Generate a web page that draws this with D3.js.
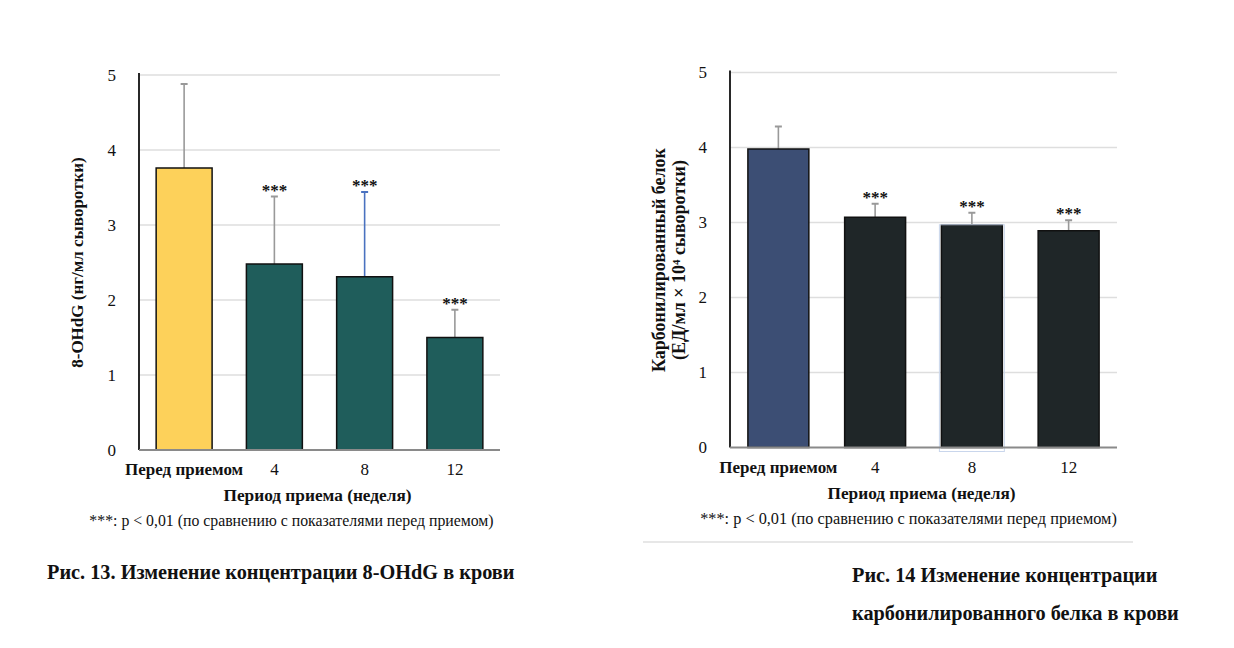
<!DOCTYPE html>
<html>
<head>
<meta charset="utf-8">
<script src="https://cdn.jsdelivr.net/npm/d3@7"></script>
<style>
  body { margin: 0; background: #fff; }
  svg text { font-family: "Liberation Serif", "Times New Roman", serif; fill: #111; }
</style>
</head>
<body>
<div id="chart"></div>
<script>
// data
var categories = ["Перед приемом", "4", "8", "12"];
var yTicks = [0, 1, 2, 3, 4, 5];
var ohdgMeans = [3.76, 2.48, 2.31, 1.50];
var ohdgErrors = [1.12, 0.90, 1.13, 0.37];
var ohdgMarks = ["", "***", "***", "***"];
var carbMeans = [3.98, 3.07, 2.97, 2.89];
var carbErrors = [0.30, 0.18, 0.16, 0.14];
var carbMarks = ["", "***", "***", "***"];

var svgWidth = 1234;
var svgHeight = 648;

var svg = d3.select("#chart")
  .append("svg")
  .attr("width", svgWidth)
  .attr("height", svgHeight);

svg.append("rect").attr("width", svgWidth).attr("height", svgHeight).attr("fill", "#fff");

function drawPanel(opt) {
  var x = d3.scaleBand()
    .domain(categories)
    .range([opt.left, opt.right])
    .paddingInner(opt.pad)
    .paddingOuter(opt.pad / 2);

  var y = d3.scaleLinear()
    .domain([0, 5])
    .range([opt.bottom, opt.top]);

  var g = svg.append("g");

  // gridlines
  g.selectAll(".grid")
    .data(yTicks.slice(1))
    .enter()
    .append("line")
    .attr("x1", opt.left)
    .attr("x2", opt.right)
    .attr("y1", d => y(d))
    .attr("y2", d => y(d))
    .attr("stroke", "#dedede")
    .attr("stroke-width", 1.5);

  // y axis labels
  var yAxis = d3.axisLeft(y).tickValues(yTicks).tickFormat(d3.format("d"))
    .tickSize(0).tickPadding(opt.tickPad);
  var ya = g.append("g")
    .attr("transform", `translate(${opt.left}, 0)`)
    .call(yAxis);
  ya.select(".domain").remove();
  ya.selectAll("text")
    .attr("font-family", "Liberation Serif")
    .attr("font-size", "17px")
    .attr("fill", "#222");

  var data = categories.map((c, i) => ({
    cat: c, mean: opt.means[i], err: opt.errors[i], mark: opt.marks[i], i: i
  }));

  // error bars
  var eb = g.selectAll(".err")
    .data(data)
    .enter()
    .append("g");
  eb.append("line")
    .attr("x1", d => x(d.cat) + x.bandwidth() / 2)
    .attr("x2", d => x(d.cat) + x.bandwidth() / 2)
    .attr("y1", d => y(d.mean))
    .attr("y2", d => y(d.mean + d.err))
    .attr("stroke", d => opt.errColors[d.i])
    .attr("stroke-width", 1.6);
  eb.append("line")
    .attr("x1", d => x(d.cat) + x.bandwidth() / 2 - 3.5)
    .attr("x2", d => x(d.cat) + x.bandwidth() / 2 + 3.5)
    .attr("y1", d => y(d.mean + d.err))
    .attr("y2", d => y(d.mean + d.err))
    .attr("stroke", d => opt.errColors[d.i])
    .attr("stroke-width", 2);

  // bars
  g.selectAll(".bar")
    .data(data)
    .enter()
    .append("rect")
    .attr("x", d => x(d.cat))
    .attr("width", x.bandwidth())
    .attr("y", d => y(d.mean))
    .attr("height", d => y(0) - y(d.mean))
    .attr("fill", d => opt.colors[d.i])
    .attr("stroke", "#111")
    .attr("stroke-width", 1.5);

  if (opt.selected != null) {
    var s = data[opt.selected];
    g.append("rect")
      .attr("x", x(s.cat) - 2)
      .attr("width", x.bandwidth() + 4)
      .attr("y", y(s.mean))
      .attr("height", y(0) - y(s.mean) + 4)
      .attr("fill", "none")
      .attr("stroke", "#c9d6ec")
      .attr("stroke-width", 1);
  }

  // significance marks
  g.selectAll(".mark")
    .data(data)
    .enter()
    .append("text")
    .attr("x", d => x(d.cat) + x.bandwidth() / 2)
    .attr("y", d => y(d.mean + d.err) - 1)
    .attr("text-anchor", "middle")
    .attr("font-size", "17px")
    .attr("font-weight", "bold")
    .text(d => d.mark);

  // axes lines
  g.append("line")
    .attr("x1", opt.left).attr("x2", opt.left)
    .attr("y1", y(5) - 2).attr("y2", y(0))
    .attr("stroke", "#111").attr("stroke-width", 1.8);
  g.append("line")
    .attr("x1", opt.left).attr("x2", opt.right)
    .attr("y1", y(0)).attr("y2", y(0))
    .attr("stroke", "#8a8a8a").attr("stroke-width", 2);

  // x axis labels
  var xAxis = d3.axisBottom(x).tickSize(0).tickPadding(13);
  var xa = g.append("g")
    .attr("transform", `translate(0, ${y(0)})`)
    .call(xAxis);
  xa.select(".domain").remove();
  xa.selectAll("text")
    .attr("font-family", "Liberation Serif")
    .attr("font-size", "17px")
    .attr("fill", "#111")
    .attr("font-weight", (d, i) => i === 0 ? "bold" : "normal");

  // x title and note
  var cx = (opt.left + opt.right) / 2;
  g.append("text")
    .attr("x", cx - 2)
    .attr("y", y(0) + 51)
    .attr("text-anchor", "middle")
    .attr("font-size", "17.3px")
    .attr("font-weight", "bold")
    .text("Период приема (неделя)");
  g.append("text")
    .attr("x", cx + opt.noteShift)
    .attr("y", y(0) + 76)
    .attr("text-anchor", "middle")
    .attr("font-size", opt.noteSize)
    .text("***: p < 0,01 (по сравнению с показателями перед приемом)");

  // y title
  var cy = (opt.top + opt.bottom) / 2;
  opt.yTitle.forEach((t, i) => {
    g.append("text")
      .attr("transform", `translate(${opt.yTitleX + i * 20}, ${cy}) rotate(-90)`)
      .attr("text-anchor", "middle")
      .attr("font-size", opt.yTitleSize)
      .attr("font-weight", "bold")
      .text(t);
  });
}

drawPanel({
  left: 139, right: 500, top: 75, bottom: 450, pad: 0.38, tickPad: 23,
  means: ohdgMeans, errors: ohdgErrors, marks: ohdgMarks,
  colors: ["#fdd15a", "#1f5d5b", "#1f5d5b", "#1f5d5b"],
  errColors: ["#999", "#999", "#4a72c0", "#999"],
  noteShift: -28, noteSize: "15.8px",
  yTitle: ["8-OHdG (нг/мл сыворотки)"], yTitleX: 83, yTitleSize: "17px"
});

drawPanel({
  left: 730, right: 1117, top: 72.5, bottom: 447.5, pad: 0.37, tickPad: 23,
  means: carbMeans, errors: carbErrors, marks: carbMarks,
  colors: ["#3c4e74", "#1f2628", "#1f2628", "#1f2628"],
  errColors: ["#999", "#999", "#999", "#999"],
  selected: 2,
  noteShift: -15, noteSize: "16.3px",
  yTitle: ["Карбонилированный белок", "(ЕД/мл × 10⁴ сыворотки)"], yTitleX: 665, yTitleSize: "18px"
});

// separator under right note
svg.append("line")
  .attr("x1", 643).attr("x2", 1133)
  .attr("y1", 542).attr("y2", 542)
  .attr("stroke", "#cfcfcf").attr("stroke-width", 1);

// captions
svg.append("text")
  .attr("x", 47).attr("y", 579)
  .attr("font-size", "20.3px").attr("font-weight", "bold")
  .text("Рис. 13. Изменение концентрации 8-OHdG в крови");
svg.append("text")
  .attr("x", 852).attr("y", 582)
  .attr("font-size", "20.3px").attr("font-weight", "bold")
  .text("Рис. 14 Изменение концентрации");
svg.append("text")
  .attr("x", 852).attr("y", 620)
  .attr("font-size", "20.3px").attr("font-weight", "bold")
  .text("карбонилированного белка в крови");
</script>
</body>
</html>
